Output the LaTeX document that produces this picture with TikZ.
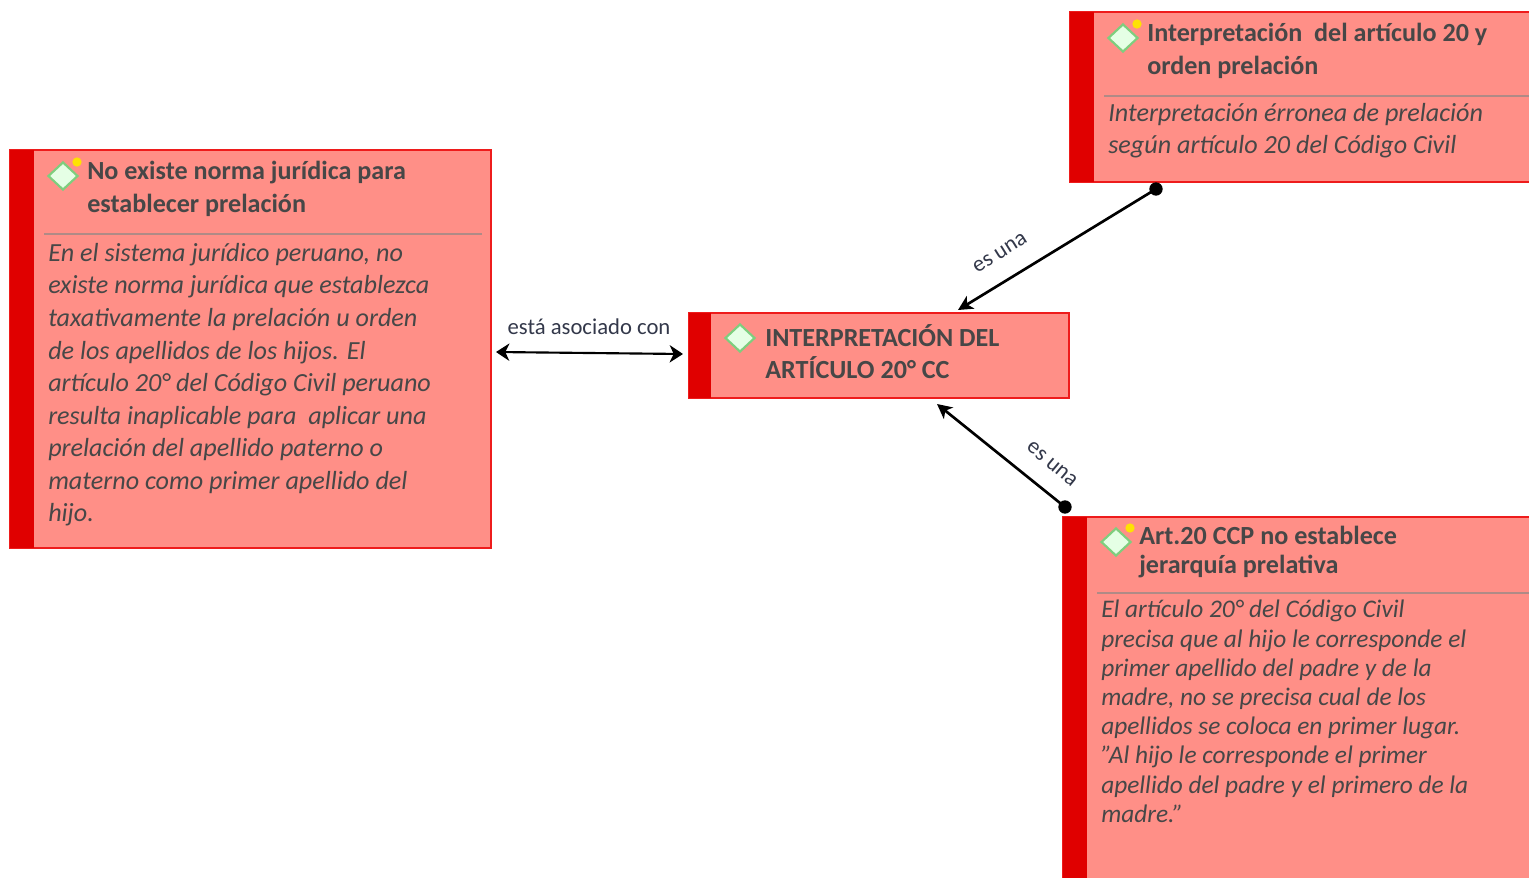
\documentclass[tikz,border=0pt]{standalone}
\usepackage{fontspec}
\setmainfont{Carlito}
\usetikzlibrary{arrows.meta,shapes.geometric}
\definecolor{boxfill}{HTML}{FF8F87}
\definecolor{barred}{HTML}{E00000}
\definecolor{edge}{HTML}{EE1C1C}
\definecolor{ink}{HTML}{474747}
\definecolor{rulegrey}{HTML}{B08A86}
\definecolor{linkink}{HTML}{33384A}
\tikzset{
  x=0.75pt,y=-0.75pt,
  cardbox/.style={draw=edge,line width=1.5pt,fill=boxfill,anchor=north west,inner sep=0pt,outer sep=0pt},
  cardbar/.style={fill=barred,draw=none,anchor=north west,inner sep=0pt,outer sep=0pt},
  icon/.style={diamond,draw=green!45!gray!70!white,line width=1.6pt,fill=green!10!white,minimum width=22.5pt,minimum height=21pt,inner sep=0pt,aspect=1},
  spark/.style={circle,fill=yellow!85!orange,draw=none,minimum size=7pt,inner sep=0pt},
  titletext/.style={anchor=north west,inner sep=0pt,align=left,text=ink,font=\fontsize{19.6}{24.3}\selectfont\bfseries},
  bodytext/.style={anchor=north west,inner sep=0pt,align=left,text=ink,font=\fontsize{19.6}{24.4}\selectfont\itshape},
  smalltext/.style={anchor=north west,inner sep=0pt,align=left,text=ink,font=\fontsize{19}{21.9}\selectfont\itshape},
  hrule/.style={draw=rulegrey,line width=0.9pt},
  link/.style={draw=black,line width=2pt},
  tipped/.style={-{Stealth[length=11pt,width=11pt,inset=3pt]}},
  twotipped/.style={{Stealth[length=10pt,width=13pt,inset=3pt]}-{Stealth[length=10pt,width=13pt,inset=3pt]}},
  dotnode/.style={circle,fill=black,draw=none,minimum size=10pt,inner sep=0pt},
  linklabel/.style={inner sep=0pt,text=linkink,font=\fontsize{17}{20}\selectfont},
}
\begin{document}
\begin{tikzpicture}
\useasboundingbox (0,0) rectangle (1529,878);
\clip (0,0) rectangle (1529,878);

% left card
\node[cardbox,minimum width=360.75pt,minimum height=298.5pt] (left) at (10,150) {};
\node[cardbar,minimum width=18pt,minimum height=298.5pt] (leftbar) at (10,150) {};
\draw[hrule] (44,234) -- (482,234);
\node[icon] (lefticon) at (63,176) {};
\node[spark] (leftspark) at (77,162) {};
\node[titletext] (lefttitle) at (87,161) {No existe norma jurídica para\\establecer prelación};
\node[bodytext] (leftbody) at (48,243) {En el sistema jurídico peruano, no\\existe norma jurídica que establezca\\taxativamente la prelación u orden\\de los apellidos de los hijos. El\\artículo 20° del Código Civil peruano\\resulta inaplicable para\ \ aplicar una\\prelación del apellido paterno o\\materno como primer apellido del\\hijo.};

% central card
\node[cardbox,minimum width=285pt,minimum height=63.75pt] (mid) at (689,313) {};
\node[cardbar,minimum width=16.5pt,minimum height=63.75pt] (midbar) at (689,313) {};
\node[icon] (midicon) at (740,338) {};
\node[titletext] (midtitle) at (765,324) {INTERPRETACIÓN DEL\\ARTÍCULO 20° CC};

% top right card
\node[cardbox,minimum width=390pt,minimum height=127.5pt] (top) at (1070,12) {};
\node[cardbar,minimum width=18pt,minimum height=127.5pt] (topbar) at (1070,12) {};
\draw[hrule] (1104,96) -- (1529,96);
\node[icon] (topicon) at (1123,38) {};
\node[spark] (topspark) at (1137,24) {};
\node[titletext] (toptitle) at (1147,23) {Interpretación\ \ del artículo 20 y\\orden prelación};
\node[bodytext] (topbody) at (1108,103) {Interpretación érronea de prelación\\según artículo 20 del Código Civil};

% bottom right card
\node[cardbox,minimum width=390pt,minimum height=300pt] (bottom) at (1063,517) {};
\node[cardbar,minimum width=18pt,minimum height=300pt] (bottombar) at (1063,517) {};
\draw[hrule] (1097,593) -- (1529,593);
\node[icon] (bottomicon) at (1116,542) {};
\node[spark] (bottomspark) at (1130,528) {};
\node[titletext,font=\fontsize{19.6}{22}\selectfont\bfseries] (bottomtitle) at (1139,526) {Art.20 CCP no establece\\jerarquía prelativa};
\node[smalltext] (bottombody) at (1101,600) {El artículo 20° del Código Civil\\precisa que al hijo le corresponde el\\primer apellido del padre y de la\\madre, no se precisa cual de los\\apellidos se coloca en primer lugar.\\"Al hijo le corresponde el primer\\apellido del padre y el primero de la\\madre."};

% connectors
\node[dotnode] (dotA) at (1156,189) {};
\node[dotnode] (dotB) at (1065,507) {};
\coordinate (tipA) at (958,310);
\coordinate (tipB) at (937,404);
\coordinate (tipL) at (496,352);
\coordinate (tipR) at (683,354);
\draw[link,tipped] (dotA.center) -- (tipA);
\draw[link,tipped] (dotB.center) -- (tipB);
\draw[link,line width=1.6pt,twotipped] (tipL) -- (tipR);

\node[linklabel,rotate=32] (labA) at (1000,253) {es una};
\node[linklabel,rotate=-40] (labB) at (1052,464) {es una};
\node[linklabel] (labC) at (589,327) {está asociado con};
\end{tikzpicture}
\end{document}
